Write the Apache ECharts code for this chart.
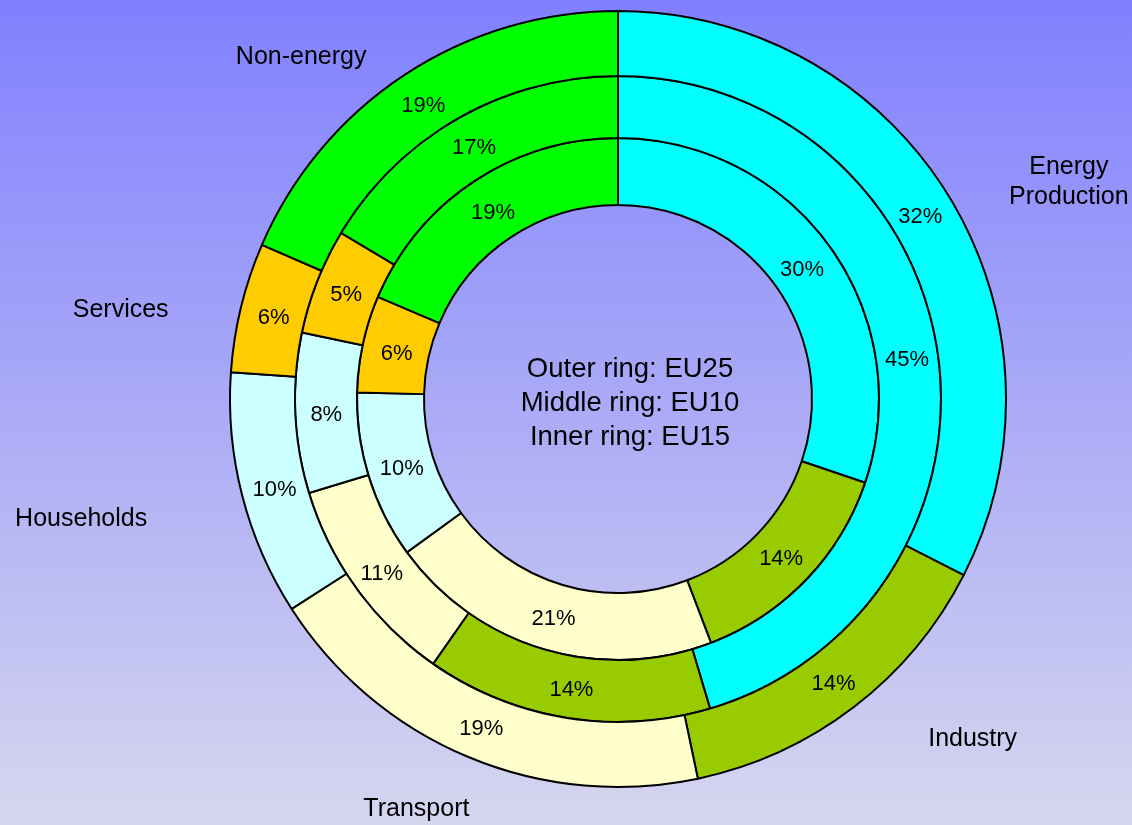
<!DOCTYPE html>
<html>
<head>
<meta charset="utf-8">
<script src="https://cdn.jsdelivr.net/npm/echarts@6/dist/echarts.min.js"></script>
<style>
html,body{margin:0;padding:0;width:1132px;height:825px;overflow:hidden;}
#chart{width:1132px;height:825px;}
</style>
</head>
<body>
<div id="chart"></div>
<script>
// ---- data ----
const categories = ['Energy Production', 'Industry', 'Transport', 'Households', 'Services', 'Non-energy'];
const categoryLabels = ['Energy\nProduction', 'Industry', 'Transport', 'Households', 'Services', 'Non-energy'];
// printed percentages
const eu25 = [32, 14, 19, 10, 6, 19];   // outer ring
const eu10 = [45, 14, 11, 8, 5, 17];    // middle ring
const eu15 = [30, 14, 21, 10, 6, 19];   // inner ring
// sector sizes as read from the drawn angles
const eu25Share = [32.5, 14.2, 19.2, 10.2, 5.4, 18.5];
const eu10Share = [45.4, 14.3, 10.6, 8.0, 5.3, 16.4];
const eu15Share = [30.2, 14.0, 20.8, 10.4, 6.0, 18.6];
const centerLines = ['Outer ring: EU25', 'Middle ring: EU10', 'Inner ring: EU15'];

// ---- styles ----
const colors = ['#00FFFF', '#99CC00', '#FFFFCC', '#CCFFFF', '#FFCC00', '#00FF00'];
const FONT = 'Liberation Sans, Arial, Helvetica, sans-serif';
// label line lengths (outer name labels), per category
const nameLineLen = [27, 40, 57, 94, -14, 21];
const nameLineLen2 = [30, 45, 0, 0, 81, 22];
const nameDist = [5, 5, -23, 4, 5, 5];

const center = [618, 399];

function ring(shares, radius) {
  return {
    type: 'pie', center: center, radius: radius,
    startAngle: 90, clockwise: true, silent: true,
    itemStyle: { borderColor: '#000', borderWidth: 2 },
    label: { show: false }, labelLine: { show: false },
    emphasis: { disabled: true },
    data: shares.map((v, i) => ({ name: categories[i], value: v, itemStyle: { color: colors[i] } }))
  };
}

// transparent twin of a ring that carries its percentage labels
function ringLabels(shares, printed, radius) {
  return {
    type: 'pie', center: center, radius: radius,
    startAngle: 90, clockwise: true, silent: true, z: 4,
    avoidLabelOverlap: false,
    itemStyle: { color: 'rgba(0,0,0,0)', borderWidth: 0 },
    label: {
      show: true, position: 'inside',
      formatter: p => printed[p.dataIndex] + '%',
      color: '#000', fontSize: 22, fontFamily: FONT, offset: [0, 3]
    },
    labelLine: { show: false },
    emphasis: { disabled: true },
    data: shares.map((v, i) => ({ name: categories[i], value: v }))
  };
}

const nameSeries = {
  type: 'pie', center: center, radius: [323, 388],
  startAngle: 90, clockwise: true, silent: true, z: 5,
  avoidLabelOverlap: false,
  itemStyle: { color: 'rgba(0,0,0,0)', borderWidth: 0 },
  label: {
    show: true, position: 'outside', color: '#000', fontSize: 25, fontFamily: FONT,
    lineHeight: 30,
    formatter: function (p) {
      const lines = categoryLabels[p.dataIndex].split('\n');
      if (lines.length > 1) return lines.map(l => '{c|' + l + '}').join('\n');
      return lines[0];
    },
    rich: { c: { width: 124, align: 'center', fontSize: 25, fontFamily: FONT, color: '#000', lineHeight: 30 } }
  },
  labelLine: { show: false },
  emphasis: { disabled: true },
  data: eu25Share.map((v, i) => ({
    name: categories[i], value: v,
    label: { distanceToLabelLine: nameDist[i] },
    labelLine: { show: false, length: nameLineLen[i], length2: nameLineLen2[i] }
  }))
};

const chart = echarts.init(document.getElementById('chart'), null, { renderer: 'canvas' });
chart.setOption({
  animation: false,
  backgroundColor: {
    type: 'linear', x: 0, y: 0, x2: 0, y2: 1,
    colorStops: [{ offset: 0, color: '#8080FF' }, { offset: 1, color: '#D6D6EF' }]
  },
  title: {
    text: centerLines.join('\n'),
    left: 625, top: 347, textAlign: 'center',
    textStyle: { fontSize: 27.5, fontWeight: 'normal', color: '#000', fontFamily: FONT, lineHeight: 34 }
  },
  series: [
    ring(eu15Share, [194, 261]),
    ring(eu10Share, [261, 323]),
    ring(eu25Share, [323, 388]),
    ringLabels(eu15Share, eu15, [186, 261]),
    ringLabels(eu10Share, eu10, [255, 323]),
    ringLabels(eu25Share, eu25, [315, 388]),
    nameSeries
  ]
});
</script>
</body>
</html>
